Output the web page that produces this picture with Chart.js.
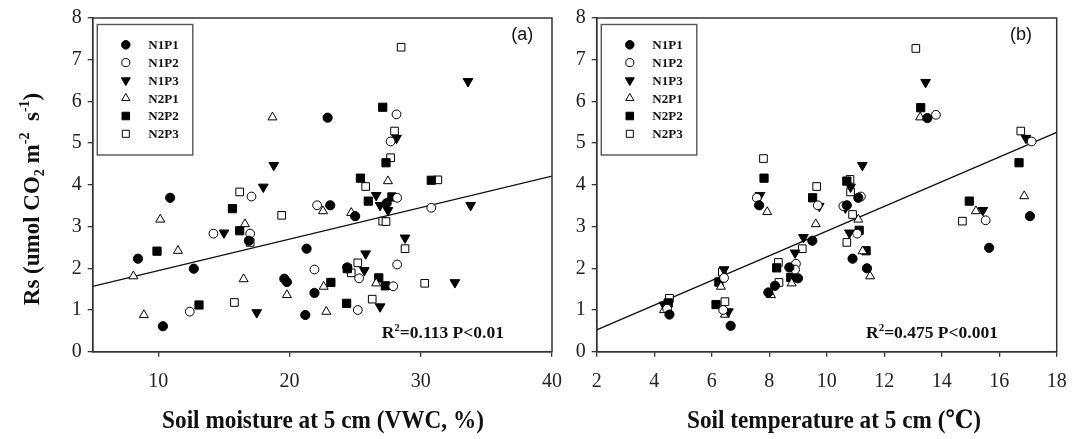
<!DOCTYPE html>
<html>
<head>
<meta charset="utf-8">
<script src="https://cdn.jsdelivr.net/npm/chart.js@4.4.1/dist/chart.umd.min.js"></script>
<style>
  html, body { margin: 0; padding: 0; background: #fff; }
  #wrap { position: relative; width: 1083px; height: 439px; overflow: hidden; }
  canvas { position: absolute; top: 0; }
</style>
</head>
<body>
<div id="wrap">
  <canvas id="moist" width="575" height="439" style="left:0"></canvas>
  <canvas id="temp" width="523" height="439" style="left:560px"></canvas>
</div>
<script>
// Rs against soil moisture, [VWC %, Rs]
const moistN1P1 = [[22.9,5.61],[10.9,3.69],[23.1,3.51],[16.9,2.66],[8.45,2.23],[21.3,2.47],[12.7,1.99],[19.6,1.75],[19.8,1.67],[21.9,1.41],[10.35,0.61],[21.2,0.88],[27.4,3.56],[25.0,3.25],[24.4,2.02]];
const moistN1P2 = [[28.15,5.69],[27.7,5.04],[17.1,3.72],[22.1,3.51],[14.2,2.83],[17.0,2.83],[21.9,1.97],[12.4,0.96],[28.2,3.69],[30.8,3.45],[28.2,2.09],[25.3,1.76],[27.9,1.57],[25.2,1.0]];
const moistN1P3 = [[33.6,6.48],[18.8,4.47],[18.0,3.95],[28.15,5.12],[15.0,2.85],[17.5,0.94],[26.6,3.75],[26.9,3.51],[27.5,3.39],[33.8,3.51],[28.8,2.73],[25.8,2.35],[25.7,1.95],[32.6,1.66],[26.9,1.08]];
const moistN2P1 = [[18.7,5.62],[27.5,4.09],[10.15,3.17],[22.55,3.37],[16.6,3.06],[11.5,2.42],[8.1,1.81],[16.5,1.74],[19.8,1.36],[22.6,1.56],[8.9,0.88],[22.8,0.96],[24.7,3.33],[26.6,1.64]];
const moistN2P2 = [[27.1,5.86],[27.35,4.53],[25.4,4.16],[30.8,4.11],[15.65,3.43],[16.2,2.90],[9.9,2.41],[13.1,1.12],[26.0,3.61],[27.8,3.71],[24.4,1.99],[26.8,1.77],[27.3,1.58],[23.15,1.66],[24.35,1.16]];
const moistN2P3 = [[28.5,7.3],[28.0,5.29],[27.7,4.65],[31.3,4.12],[25.8,3.96],[16.2,3.83],[19.4,3.27],[17.0,2.62],[15.8,1.18],[27.1,3.13],[27.35,3.12],[28.8,2.47],[25.2,2.13],[24.7,1.89],[30.3,1.64],[26.3,1.26]];

// Rs against soil temperature, [deg C, Rs]
const tempN1P1 = [[13.5,5.60],[7.65,3.51],[9.5,2.66],[8.7,2.02],[8.2,1.58],[7.97,1.42],[9.0,1.76],[6.66,0.62],[4.53,0.89],[11.1,3.69],[10.7,3.51],[10.9,2.23],[11.4,2.0],[15.65,2.49],[17.07,3.25]];
const tempN1P2 = [[13.8,5.68],[17.13,5.04],[7.57,3.69],[9.69,3.51],[8.93,2.11],[8.9,1.97],[6.43,1.77],[6.4,1.0],[11.19,3.72],[10.58,3.49],[11.06,2.83],[15.53,3.15],[4.45,1.03]];
const tempN1P3 = [[13.44,6.46],[16.93,5.12],[11.24,4.47],[10.83,3.95],[7.68,3.75],[9.74,3.49],[9.19,2.74],[8.9,2.37],[6.43,1.97],[6.58,0.96],[4.34,1.12],[10.65,3.45],[10.79,2.85],[15.43,3.39]];
const tempN2P1 = [[13.25,5.62],[7.93,3.35],[9.62,3.06],[8.06,1.36],[8.78,1.64],[6.32,1.56],[6.46,0.89],[4.34,1.0],[11.1,3.17],[11.25,2.41],[11.51,1.81],[15.19,3.37],[16.87,3.73]];
const tempN2P2 = [[13.27,5.85],[16.69,4.53],[10.7,4.09],[7.82,4.16],[9.51,3.69],[8.26,2.01],[8.75,1.78],[6.25,1.67],[6.15,1.13],[4.49,1.17],[11.13,2.91],[11.37,2.42],[14.96,3.61]];
const tempN2P3 = [[13.1,7.27],[16.75,5.29],[10.81,4.13],[7.8,4.63],[9.65,3.96],[9.15,2.47],[8.32,2.14],[8.34,1.66],[6.37,1.91],[6.46,1.2],[4.53,1.28],[10.83,3.83],[10.9,3.29],[10.7,2.62],[14.72,3.13]];

// linear fits: [intercept, slope]
const fitMoist = [1.19, 0.0755];
const fitTemp = [-0.07, 0.296];

const seriesNames = ['N1P1', 'N1P2', 'N1P3', 'N2P1', 'N2P2', 'N2P3'];
const moistTicks = [10, 20, 30, 40];
const tempTicks = [2, 4, 6, 8, 10, 12, 14, 16, 18];
const rsTicks = [0, 1, 2, 3, 4, 5, 6, 7, 8];

const SERIF = '"Liberation Serif", "Times New Roman", "DejaVu Serif", serif';
const AXIS = '#333';

// marker per treatment
const markers = [
  { pointStyle: 'circle',   radius: 4.6, fill: '#000', rotation: 0 },
  { pointStyle: 'circle',   radius: 4.4, fill: '#fff', rotation: 0 },
  { pointStyle: 'triangle', radius: 5.6, fill: '#000', rotation: 180 },
  { pointStyle: 'triangle', radius: 5.2, fill: '#fff', rotation: 0 },
  { pointStyle: 'rect',     radius: 5.8, fill: '#000', rotation: 0 },
  { pointStyle: 'rect',     radius: 5.4, fill: '#fff', rotation: 0 },
];

// text with super/subscripts, parts = [[text, 'n'|'sup'|'sub'], ...]
function drawRich(ctx, parts, x, y, size, align, scaleX) {
  const small = Math.round(size * 0.62);
  const fontFor = k => `bold ${k === 'n' ? size : small}px ${SERIF}`;
  let total = 0;
  parts.forEach(([t, k]) => { ctx.font = fontFor(k); total += ctx.measureText(t).width; });
  ctx.save();
  ctx.translate(x, y);
  ctx.scale(scaleX || 1, 1);
  ctx.textAlign = 'left';
  ctx.textBaseline = 'alphabetic';
  ctx.fillStyle = '#111';
  let cx = align === 'center' ? -total / 2 : 0;
  parts.forEach(([t, k]) => {
    ctx.font = fontFor(k);
    const dy = k === 'sup' ? -size * 0.42 : k === 'sub' ? size * 0.24 : 0;
    ctx.fillText(t, cx, dy);
    cx += ctx.measureText(t).width;
  });
  ctx.restore();
}

const panelDecor = {
  id: 'panelDecor',
  afterDraw(chart, args, o) {
    const { ctx, chartArea: a } = chart;
    ctx.save();
    // frame
    ctx.strokeStyle = AXIS;
    ctx.lineWidth = 1.5;
    ctx.strokeRect(a.left, a.top, a.right - a.left, a.bottom - a.top);

    // legend box
    const bx = a.left + 4.6, by = a.top + 6.5;
    ctx.strokeStyle = '#555';
    ctx.lineWidth = 1.4;
    ctx.strokeRect(bx, by, 95.5, 130.5);
    ctx.font = `bold 13px ${SERIF}`;
    ctx.textBaseline = 'middle';
    ctx.textAlign = 'left';
    seriesNames.forEach((name, i) => {
      const m = markers[i];
      const yy = by + 20.3 + i * 17.8;
      ctx.fillStyle = m.fill;
      ctx.strokeStyle = '#000';
      ctx.lineWidth = 1;
      Chart.helpers.drawPoint(ctx, { pointStyle: m.pointStyle, rotation: m.rotation, radius: m.radius * 0.92, borderWidth: 1 }, bx + 28.5, yy);
      ctx.fillStyle = '#111';
      ctx.fillText(name, bx + 51, yy + 1);
    });

    // fit statistics
    drawRich(ctx, [['R', 'n'], ['2', 'sup'], [o.stat, 'n']], a.left + o.statDx, a.bottom - 13.5, 17.5, 'left');

    // panel letter
    ctx.font = '18px "Liberation Sans", Arial, sans-serif';
    ctx.fillStyle = '#111';
    ctx.textAlign = 'center';
    ctx.textBaseline = 'middle';
    ctx.fillText(o.letter, a.right - o.letterDx, a.top + 17.5);

    // x axis title
    drawRich(ctx, [[o.xTitle, 'n']], o.xTitleX, 428, 25, 'center', 0.93);

    // y axis title
    if (o.yTitle) {
      ctx.save();
      ctx.translate(38.5, 199);
      ctx.rotate(-Math.PI / 2);
      drawRich(ctx, [['Rs (umol CO', 'n'], ['2', 'sub'], [' m', 'n'], ['-2', 'sup'], ['  s', 'n'], ['-1', 'sup'], [')', 'n']], 0, 0, 23, 'center');
      ctx.restore();
    }
    ctx.restore();
  }
};

function buildDatasets(groups, fit, xMin, xMax) {
  const ds = groups.map((g, i) => ({
    label: seriesNames[i],
    data: g.map(([x, y]) => ({ x, y })),
    pointStyle: markers[i].pointStyle,
    rotation: markers[i].rotation,
    pointRadius: markers[i].radius,
    backgroundColor: markers[i].fill,
    borderColor: '#000',
    borderWidth: 1,
    showLine: false,
  }));
  ds.push({
    type: 'line',
    label: 'fit',
    data: [xMin, xMax].map(x => ({ x, y: fit[0] + fit[1] * x })),
    borderColor: '#111',
    borderWidth: 1.4,
    pointRadius: 0,
    fill: false,
  });
  return ds;
}

function makeChart(id, o) {
  const tickFont = { family: SERIF, size: 20 };
  return new Chart(document.getElementById(id), {
    type: 'scatter',
    data: { datasets: buildDatasets(o.groups, o.fit, o.xMin, o.xMax) },
    plugins: [panelDecor],
    options: {
      responsive: false,
      animation: false,
      events: [],
      layout: { padding: { left: 0, right: o.padRight, top: o.padTop, bottom: 0 } },
      plugins: {
        legend: { display: false },
        tooltip: { enabled: false },
        panelDecor: o.decor,
      },
      scales: {
        x: {
          type: 'linear',
          min: o.xMin,
          max: o.xMax,
          afterBuildTicks: s => { s.ticks = o.xTicks.map(v => ({ value: v })); },
          afterFit: s => { s.height = 87.3; },
          grid: { drawOnChartArea: false, drawTicks: true, tickLength: 5, color: AXIS, lineWidth: 1.3 },
          border: { display: true, color: AXIS, width: 1.5 },
          ticks: { font: tickFont, color: '#222', padding: 13, maxRotation: 0, autoSkip: false },
        },
        y: {
          type: 'linear',
          min: 0,
          max: 8,
          afterBuildTicks: s => { s.ticks = rsTicks.map(v => ({ value: v })); },
          afterFit: s => { s.width = o.yWidth; },
          grid: { drawOnChartArea: false, drawTicks: true, tickLength: 5, color: AXIS, lineWidth: 1.3 },
          border: { display: true, color: AXIS, width: 1.5 },
          ticks: { font: tickFont, color: '#222', padding: 6, autoSkip: false },
        },
      },
    },
  });
}

makeChart('moist', {
  groups: [moistN1P1, moistN1P2, moistN1P3, moistN2P1, moistN2P2, moistN2P3],
  fit: fitMoist, xMin: 5, xMax: 40, xTicks: moistTicks,
  yWidth: 92.7, padRight: 20.3, padTop: 17.3,
  decor: { letter: '(a)', letterDx: 29.7, stat: '=0.113 P<0.01', statDx: 289,
           xTitle: 'Soil moisture at 5 cm (VWC, %)', xTitleX: 323, yTitle: true },
});

makeChart('temp', {
  groups: [tempN1P1, tempN1P2, tempN1P3, tempN2P1, tempN2P2, tempN2P3],
  fit: fitTemp, xMin: 2, xMax: 18, xTicks: tempTicks,
  yWidth: 36.7, padRight: 26.3, padTop: 18,
  decor: { letter: '(b)', letterDx: 35.7, stat: '=0.475 P<0.001', statDx: 269.3,
           xTitle: 'Soil temperature at 5 cm (\u2103)', xTitleX: 274, yTitle: false },
});
</script>
</body>
</html>
